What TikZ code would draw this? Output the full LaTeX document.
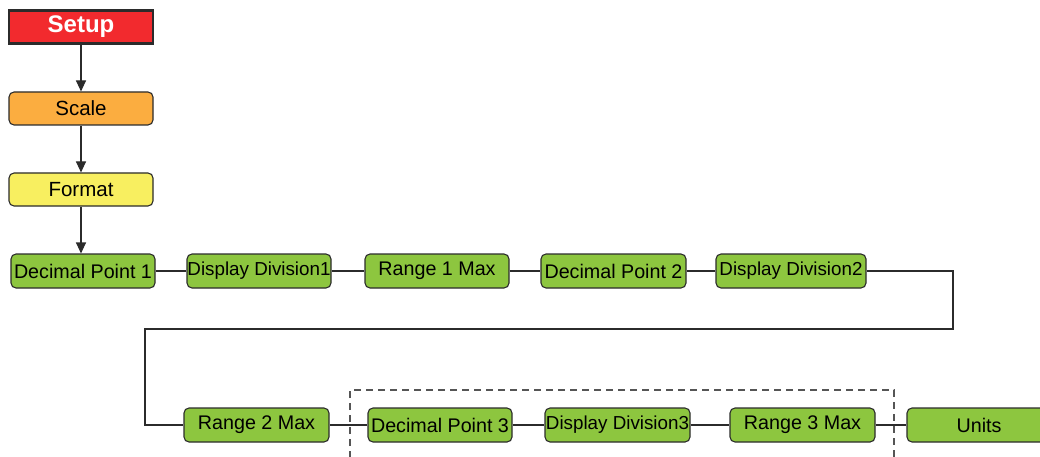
\documentclass[tikz,border=0pt]{standalone}
\usepackage{fontspec}
\setmainfont{Liberation Sans}
\usetikzlibrary{arrows.meta}
\definecolor{gfill}{HTML}{8DC63F}
\definecolor{ofill}{HTML}{FBAD40}
\definecolor{yfill}{HTML}{F8EF60}
\definecolor{rfill}{HTML}{F22A2E}
\definecolor{edge}{HTML}{2B2B2B}
\tikzset{
  box/.style={draw=edge, line width=1.1pt, rounded corners=5pt, inner sep=0pt,
    minimum width=144pt, minimum height=34pt, anchor=center,
    font=\fontsize{19.7}{19.7}\selectfont},
  gbox/.style={box, fill=gfill},
  dbox/.style={gbox, font=\fontsize{18.8}{18.8}\selectfont},
  conn/.style={draw=edge, line width=1.1pt},
  arr/.style={conn, -{Triangle[width=10pt,length=11pt]}},
}
\begin{document}
\begin{tikzpicture}[x=1pt,y=-1pt]
\useasboundingbox (0,0) rectangle (1040,457);
\begin{scope}
\clip (0,0) rectangle (1040,457);
\node[draw=edge, line width=2.2pt, fill=rfill, minimum width=144pt, minimum height=33pt, inner sep=0pt,
  text=white, font=\fontsize{24}{24}\selectfont\bfseries] (setup) at (81,27) {Setup};
\node[box, fill=ofill, minimum height=33pt, font=\fontsize{20.5}{20.5}\selectfont] (scale) at (81,108.5) {Scale};
\node[box, fill=yfill, minimum height=33pt, font=\fontsize{20.5}{20.5}\selectfont] (fmt) at (81,189.5) {Format};
\node[gbox] (dp1) at (83,271) {Decimal Point 1};
\node[dbox] (dd1) at (259,271) {\makebox[0pt]{Display Division1}};
\node[gbox] (r1m) at (437,271) {Range 1 Max};
\node[gbox, minimum width=145pt] (dp2) at (613.5,271) {Decimal Point 2};
\node[dbox, minimum width=150pt] (dd2) at (791,271) {\makebox[0pt]{Display Division2}};
\node[gbox, minimum width=145pt] (r2m) at (256.5,425) {Range 2 Max};
\node[gbox] (dp3) at (440,425) {Decimal Point 3};
\node[dbox, minimum width=145pt] (dd3) at (617.5,425) {\makebox[0pt]{Display Division3}};
\node[gbox, minimum width=145pt] (r3m) at (802.5,425) {Range 3 Max};
\node[gbox] (units) at (979,425) {Units};
\coordinate (c1) at (953,329);
\coordinate (c2) at (145,329);
\draw[arr] (setup.south) -- (setup.south |- scale.north);
\draw[arr] (scale.south) -- (scale.south |- fmt.north);
\draw[arr] (fmt.south) -- (fmt.south |- dp1.north);
\draw[conn] (dp1) -- (dd1);
\draw[conn] (dd1) -- (r1m);
\draw[conn] (r1m) -- (dp2);
\draw[conn] (dp2) -- (dd2);
\draw[conn] (dd2.east) -| (c1) -- (c2) |- (r2m.west);
\draw[conn] (r2m) -- (dp3);
\draw[conn] (dp3) -- (dd3);
\draw[conn] (dd3) -- (r3m);
\draw[conn] (r3m) -- (units);
\draw[draw=edge!80, line width=1.1pt, dash pattern=on 7pt off 5pt] (350,470) -- (350,390) -- (894,390) -- (894,470);
\end{scope}
\end{tikzpicture}
\end{document}
